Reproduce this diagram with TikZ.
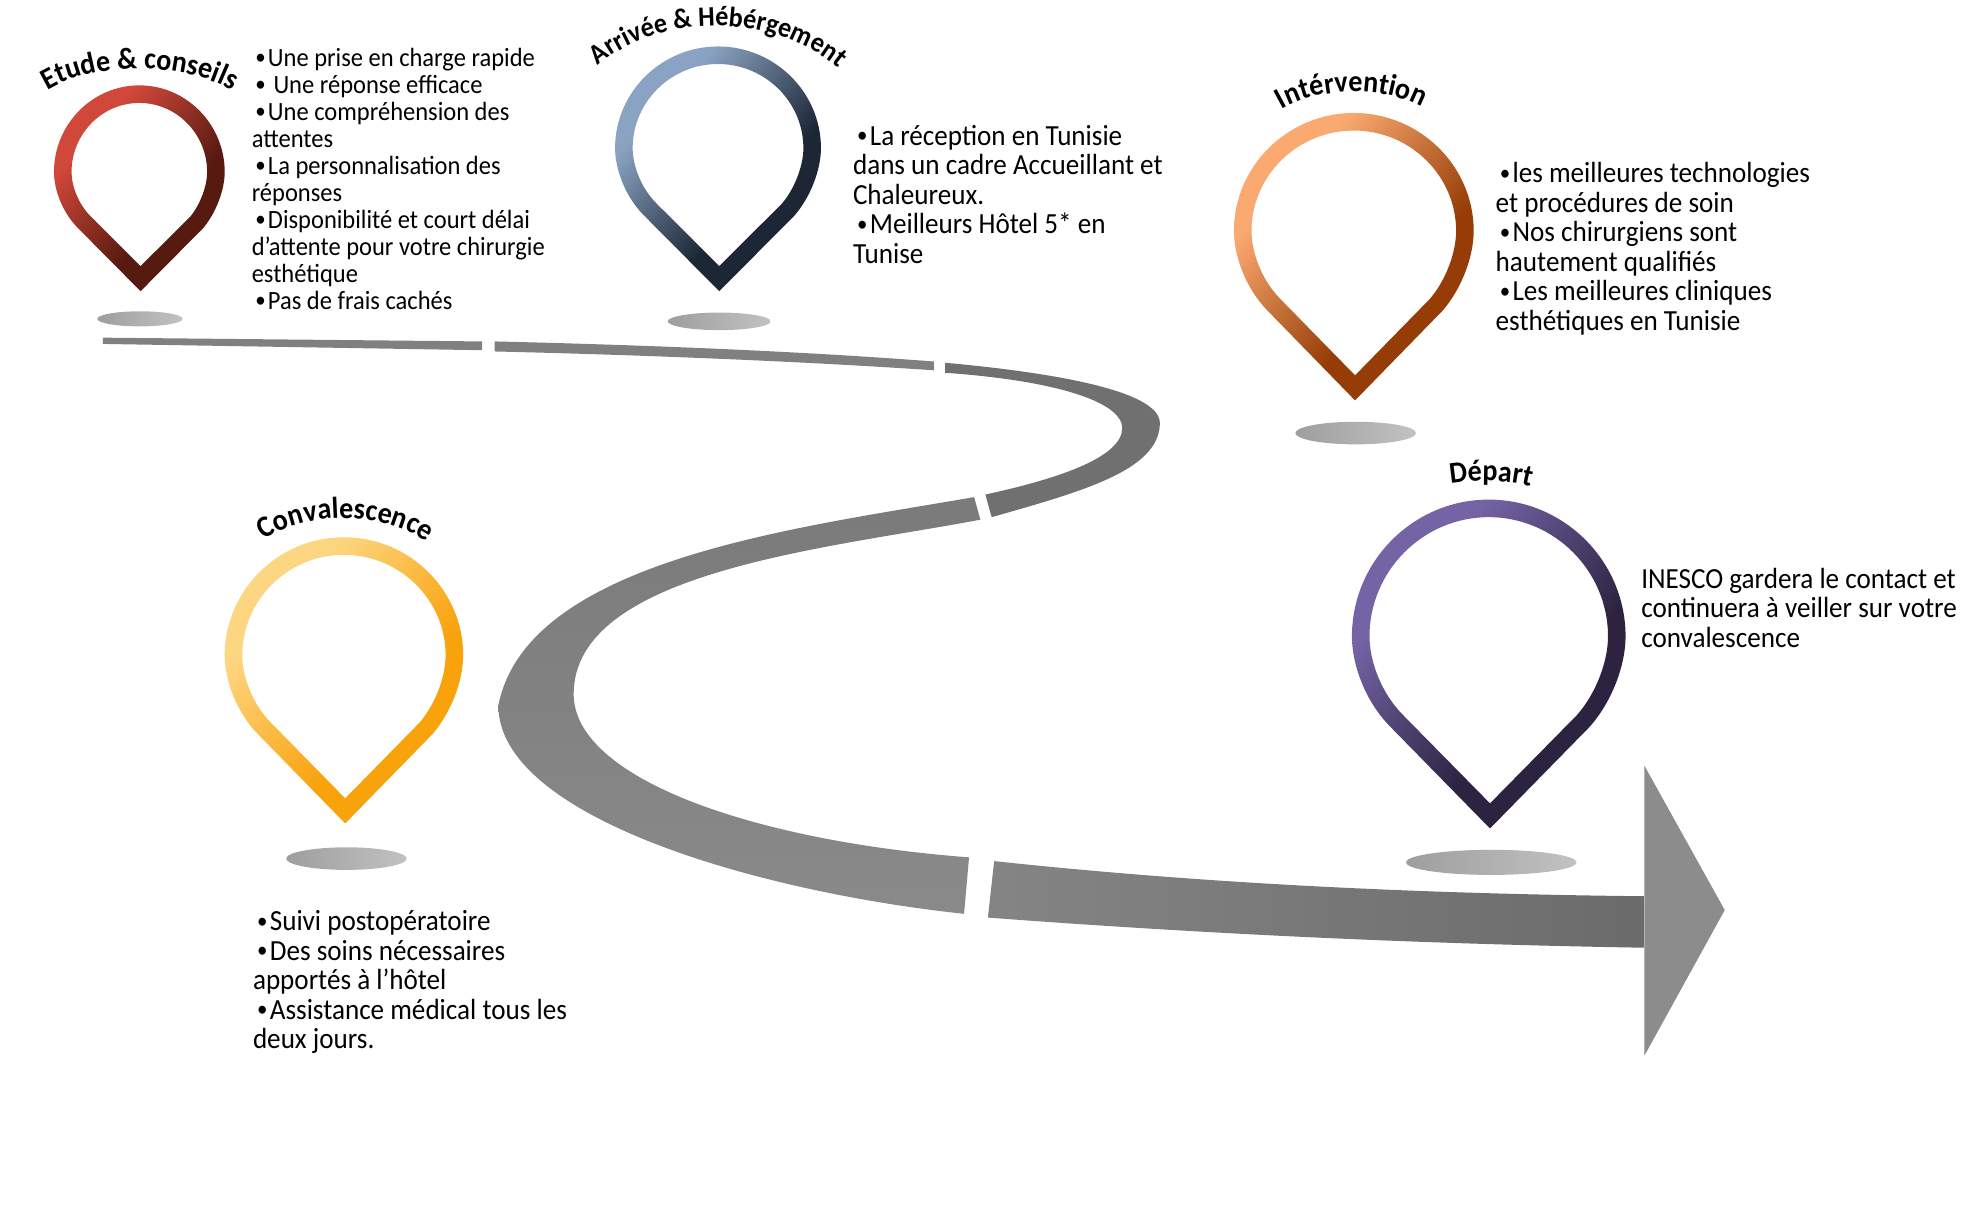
\documentclass[tikz,border=0pt]{standalone}
\usepackage{fontspec}
\setmainfont[FakeStretch=0.93]{Carlito}
\usepackage{xcolor}
\usepackage{tikz}
\usetikzlibrary{positioning, calc, decorations.text}

\newcommand{\puce}{\hspace*{.14em}\raisebox{.08em}{\fontsize{6.4}{6}\selectfont •}\hspace{.08em}}
\newcommand{\titlefont}{\fontsize{8.6}{10}\bfseries}
\colorlet{pinA}{white}
\colorlet{pinB}{black}
\pgfdeclarehorizontalshading[pinA,pinB]{pinfade}{100bp}{color(0bp)=(pinA); color(31bp)=(pinA);
    color(60bp)=(pinB); color(100bp)=(pinB)}
% outline of a pin: centre x, widest y, half width, height above, height below
\newcommand{\droppath}[5]{
    ({#1+1},{#2+(#5)}) -- ({#1-.72*(#3)},{#2+.47*(#5)})
    .. controls ({#1-.90*(#3)},{#2+.34*(#5)}) and ({#1-(#3)},{#2+.15*(#5)}) .. ({#1-(#3)},#2)
    .. controls ({#1-(#3)},{#2-.55*(#4)}) and ({#1-.55*(#3)},{#2-(#4)}) .. (#1,{#2-(#4)})
    .. controls ({#1+.55*(#3)},{#2-(#4)}) and ({#1+(#3)},{#2-.55*(#4)}) .. ({#1+(#3)},#2)
    .. controls ({#1+(#3)},{#2+.15*(#5)}) and ({#1+.90*(#3)},{#2+.34*(#5)}) .. ({#1+.72*(#3)+2},{#2+.47*(#5)})
    -- cycle
}
\newcommand{\pinring}[7]{
    \colorlet{pinA}{#6}
    \colorlet{pinB}{#7}
    \shade [even odd rule, shading = pinfade, shading angle = -42]
    \droppath{#1}{#2}{#3}{#4}{#5} \droppath{#1}{#2}{#3-14}{#4-14}{#5-20};
}
\definecolor{etudeA}{HTML}{D0483A}
\definecolor{etudeB}{HTML}{561A10}
\definecolor{arriveeA}{HTML}{8AA3C2}
\definecolor{arriveeB}{HTML}{1C2635}
\definecolor{interA}{HTML}{FAA970}
\definecolor{interB}{HTML}{963C06}
\definecolor{convalA}{HTML}{FDD681}
\definecolor{convalB}{HTML}{F8A20C}
\definecolor{departA}{HTML}{7464A6}
\definecolor{departB}{HTML}{2C2340}
\tikzset{
    bodytext/.style = {font = \fontsize{8.3}{8.39}\selectfont, align = left,
        anchor = north west, inner sep = 0pt},
    smalltext/.style = {font = \fontsize{7.5}{7.68}\selectfont, align = left,
        anchor = north west, inner sep = 0pt},
    shadow/.style = {left color = black!38, right color = black!24},
    arctitle/.style = {decorate, decoration = {text along path,
        text align = center, text = {#1}}}
}

\begin{document}
\begin{tikzpicture}[x = 0.012553cm, y = -0.012553cm]
    \useasboundingbox (0,0) rectangle (1567,966);

    % road
    \fill [black!50] (82,269) -- (384,272) -- (384,279) -- (82,274) -- cycle;
    \fill [black!50] (394,272) .. controls (520,275) and (640,280) .. (744,288)
        -- (744,295) .. controls (640,288) and (520,283) .. (394,280) -- cycle;
    \fill [black!56] (753,289) .. controls (830,296) and (924,310) .. (924,337)
        .. controls (924,375) and (860,392) .. (790,412) -- (785,394)
        .. controls (840,382) and (894,365) .. (894,341)
        .. controls (894,320) and (840,303) .. (753,297) -- cycle;
    \shade [bottom color = black!46, top color = black!52] (776,396)
        .. controls (640,420) and (420,445) .. (397,562)
        .. controls (397,650) and (600,710) .. (768,728) -- (772,683)
        .. controls (600,670) and (457,620) .. (457,553)
        .. controls (457,455) and (660,437) .. (781,414) -- cycle;
    \shade [left color = black!48, right color = black!58] (792,686)
        .. controls (960,704) and (1130,712) .. (1310,714) -- (1310,755)
        .. controls (1130,752) and (960,744) .. (787,731) -- cycle;
    \fill [black!45] (1310,610) -- (1374,725) -- (1310,841) -- cycle;

    % pins and their shadows
    \pinring{111}{137}{68}{69}{95}{etudeA}{etudeB}
    \pinring{572}{118}{82}{81}{114}{arriveeA}{arriveeB}
    \pinring{1078.5}{184}{95.5}{94}{135}{interA}{interB}
    \pinring{274}{522}{95}{94}{134}{convalA}{convalB}
    \pinring{1186}{507}{109}{109}{153}{departA}{departB}

    \shade [shadow] (111.5,254) ellipse [x radius = 34, y radius = 6];
    \shade [shadow] (573,256) ellipse [x radius = 41, y radius = 7];
    \shade [shadow] (1080,345) ellipse [x radius = 48, y radius = 9];
    \shade [shadow] (276,684) ellipse [x radius = 48, y radius = 9];
    \shade [shadow] (1188,687) ellipse [x radius = 68, y radius = 10];

    % titles
    \path [arctitle = {|\titlefont|Etude {\&} conseils}]
        (33,75) .. controls (70,48) and (150,48) .. (190,75);
    \path [arctitle = {|\fontsize{8}{10}\bfseries|Arrivée {\&} Hébérgement}]
        (470,58) .. controls (518,10) and (618,6) .. (674,60);
    \path [arctitle = {|\titlefont|Intérvention}]
        (1018,89) .. controls (1050,68) and (1105,68) .. (1136,87);
    \path [arctitle = {|\titlefont|Convalescence}]
        (203,435) .. controls (240,405) and (310,405) .. (347,437);
    \path [arctitle = {|\titlefont|Départ}]
        (1153,386) .. controls (1175,382) and (1200,382) .. (1222,388);

    % texts
    \node [smalltext] (etude) at (200,38) {\puce Une prise en charge rapide\\
        \puce\ Une réponse efficace\\ \puce Une compréhension des\\ attentes\\
        \puce La personnalisation des\\ réponses\\ \puce Disponibilité et court délai\\
        d'attente pour votre chirurgie\\ esthétique\\ \puce Pas de frais cachés};
    \node [bodytext] (arrivee) at (679,99) {\puce La réception en Tunisie\\
        dans un cadre Accueillant et\\ Chaleureux.\\ \puce Meilleurs Hôtel 5* en\\ Tunise};
    \node [bodytext] (intervention) at (1191,129) {\puce les meilleures technologies\\
        et procédures de soin\\ \puce Nos chirurgiens sont\\ hautement qualifiés\\
        \puce Les meilleures cliniques\\ esthétiques en Tunisie};
    \node [bodytext] (conval) at (201,725) {\puce Suivi postopératoire\\
        \puce Des soins nécessaires\\ apportés à l'hôtel\\ \puce Assistance médical tous les\\
        deux jours.};
    \node [bodytext] (depart) at (1307,452) {INESCO gardera le contact et\\
        continuera à veiller sur votre\\ convalescence};
\end{tikzpicture}
\end{document}
